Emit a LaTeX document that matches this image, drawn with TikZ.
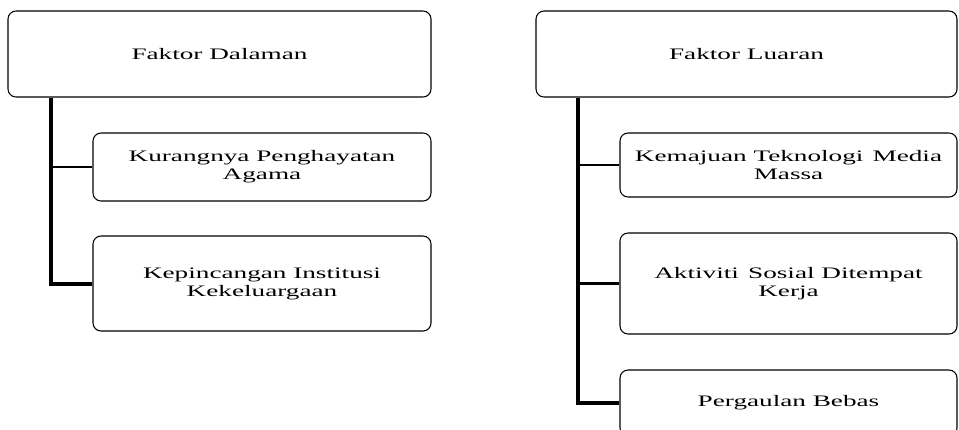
\documentclass[tikz,border=0pt]{standalone}
\usepackage{fontspec}
\usepackage{tikz}
\usetikzlibrary{
  positioning, calc
}
\newfontfamily\boxfont[FakeStretch=1.7]{Liberation Serif}

\begin{document}
\begin{tikzpicture}[x=0.75pt, y=-0.75pt,
    faktorbox/.style 2 args={draw=black, line width=0.8pt, rounded corners=6pt,
      align=center, inner sep=0pt, font=\boxfont\fontsize{12}{13.5}\selectfont,
      minimum width=#1*0.75pt, minimum height=#2*0.75pt},
    spine/.style={line width=3pt},
    branch/.style={line width=1.8pt}]
    \useasboundingbox (0,0) rectangle (959,429);

    % faktor dalaman
    \node[faktorbox={423}{86}] (dalam) at (219.5,54) {Faktor Dalaman};
    \node[faktorbox={338}{68}] (kurang) at (262,167) {Kurangnya Penghayatan\\Agama};
    \node[faktorbox={338}{95}] (pincang) at (262,283.5) {Kepincangan Institusi\\Kekeluargaan};
    \coordinate[xshift=33pt] (sd) at (dalam.south west);
    \draw[spine] (sd) |- (pincang.west);
    \draw[branch] (sd |- kurang.west) -- (kurang.west);

    % faktor luaran
    \node[faktorbox={421}{86}] (luar) at (746.5,54) {Faktor Luaran};
    \node[faktorbox={337}{64}] (maju) at (788.5,165) {Kemajuan Teknologi\hspace{0.15em} Media\\Massa};
    \node[faktorbox={337}{101}] (aktif) at (788.5,283.5) {Aktiviti\hspace{0.15em} Sosial Ditempat\\Kerja};
    \node[faktorbox={337}{66}] (bebas) at (788.5,403) {Pergaulan Bebas};
    \coordinate[xshift=32.25pt] (sl) at (luar.south west);
    \draw[spine] (sl) |- (bebas.west);
    \foreach \n in {maju, aktif}
      \draw[branch] (sl |- \n.west) -- (\n.west);
\end{tikzpicture}
\end{document}
